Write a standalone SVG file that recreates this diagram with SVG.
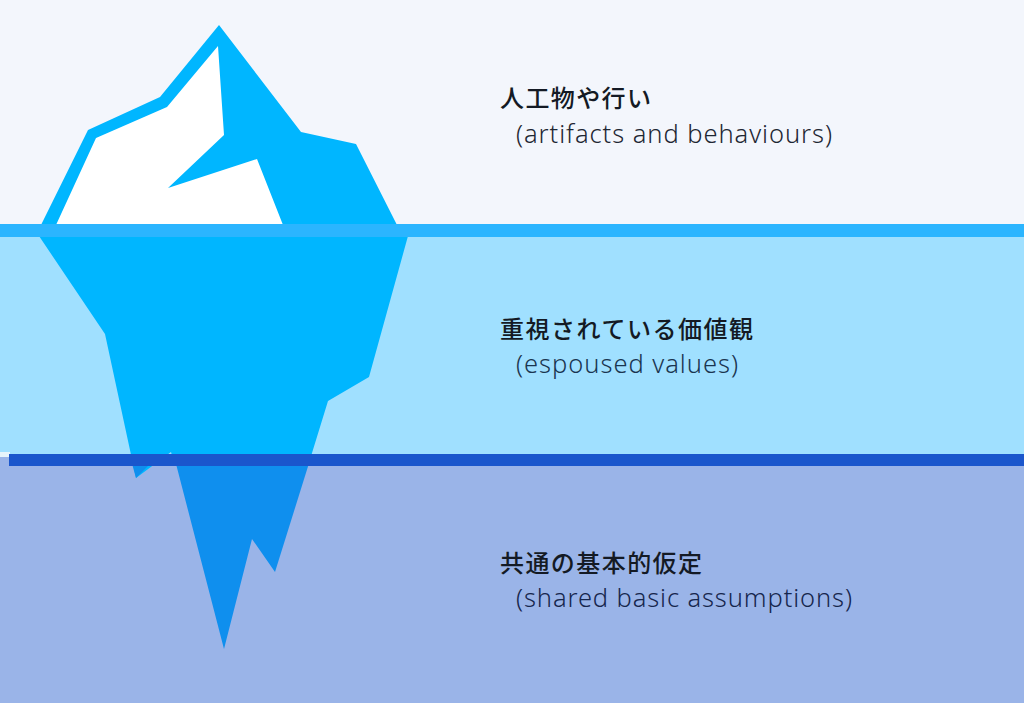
<svg xmlns="http://www.w3.org/2000/svg" width="1024" height="703" viewBox="0 0 1024 703">
<defs><style>
.jp{font-family:"Noto Sans CJK JP","Noto Sans",sans-serif;font-size:24px;font-weight:500;fill:#141a24}
.en{font-family:"Noto Sans","Noto Sans CJK JP",sans-serif;font-size:25.5px;font-weight:300}
.ice{fill:#00b6ff}
</style></defs>
<g id="background">
<rect x="0" y="0" width="1024" height="225" fill="#f3f6fc"/>
<rect x="0" y="236" width="1024" height="219" fill="#a0e0ff"/>
<rect x="0" y="455" width="1024" height="248" fill="#9ab4e8"/>
<rect x="0" y="452" width="10" height="5" fill="#e6f4fb"/>
</g>
<g id="iceberg-top">
<polygon class="ice" points="219,25 301,132 356,144 397,225 41,225 88,130 160,97"/>
<polygon fill="#fff" points="218,46 224,135 168,188 257,159 283,225 56,225 96,138 167,107"/>
</g>
<g id="iceberg-middle">
<polygon class="ice" points="39,236 408,236 369,377 328,401 308,466 175,466 171,452 136,478 105,334"/>
</g>
<g id="iceberg-bottom">
<polygon fill="#0f8fee" points="175,460 310,460 275,572 252,539 224,649"/>
<polygon fill="#0f8fee" points="131,460 154,460 136,478"/>
</g>
<g id="lines">
<rect x="0" y="224" width="1024" height="13" fill="#2bb5ff"/>
<rect x="9" y="454" width="1015" height="12" fill="#1a56cc"/>
</g>
<g id="label-artifacts">
<text class="jp" x="500" y="107" textLength="151" lengthAdjust="spacing">人工物や行い</text>
<text class="en" x="516" y="143" fill="#1e2733" textLength="316" lengthAdjust="spacing">(artifacts and behaviours)</text>
</g>
<g id="label-values">
<text class="jp" x="500" y="338" textLength="253" lengthAdjust="spacing">重視されている価値観</text>
<text class="en" x="516" y="373" fill="#1a3550" textLength="222" lengthAdjust="spacing">(espoused values)</text>
</g>
<g id="label-assumptions">
<text class="jp" x="500" y="572" textLength="202" lengthAdjust="spacing">共通の基本的仮定</text>
<text class="en" x="516" y="607" fill="#16264d" textLength="336" lengthAdjust="spacing">(shared basic assumptions)</text>
</g>
</svg>
